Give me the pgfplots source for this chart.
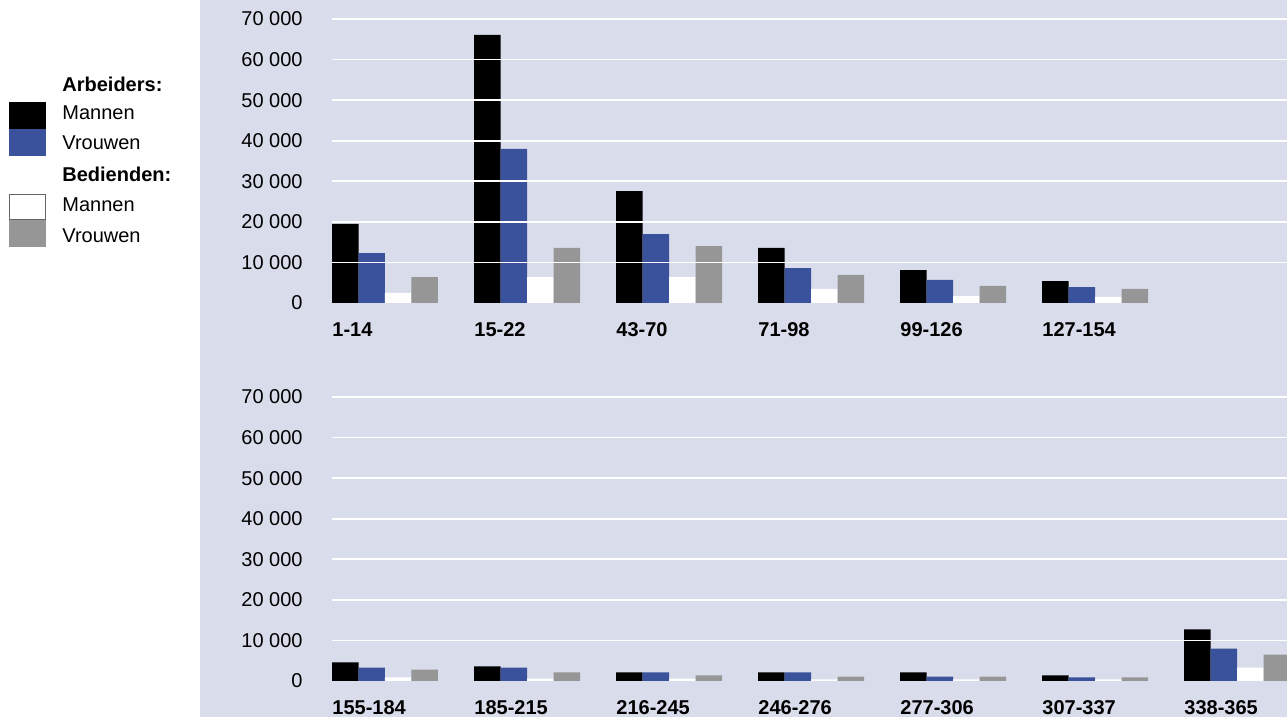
\documentclass[border=0pt]{standalone}
\usepackage{fontspec}
\setmainfont{Liberation Sans}
\usepackage{pgfplots}
\pgfplotsset{compat=1.18}
\definecolor{bg}{RGB}{217,220,235}
\definecolor{vblue}{RGB}{58,82,155}
\definecolor{vgray}{RGB}{150,150,150}
\pgfplotsset{panel/.style={
  scale only axis, width=477.5pt, height=142pt,
  xmin=-0.3732, xmax=6.352, ymin=0, ymax=70000,
  axis on top, axis line style={draw=none}, major tick length=0pt,
  ytick={10000,20000,30000,40000,50000,60000,70000},
  yticklabels={10 000,20 000,30 000,40 000,50 000,60 000,70 000},
  extra y ticks={0}, extra y tick labels={0}, extra y tick style={grid=none},
  ymajorgrids, major grid style={white, line width=0.8pt},
  yticklabel style={font=\fontsize{10}{12}\selectfont, inner sep=0pt, anchor=east, xshift=-14.5pt},
  xticklabel style={font=\fontsize{10}{12}\selectfont\bfseries, inner sep=0pt, anchor=west, yshift=-13.5pt},
  xtick={-0.3732,0.6268,1.6268,2.6268,3.6268,4.6268,5.6268},
  scaled y ticks=false,
  ybar, bar width=0.1866,
}}
\begin{document}
\begin{tikzpicture}
\fill[bg] (100pt,0pt) rectangle (643.5pt,358.5pt);
% legend
\fill[black] (4.5pt,307.5pt) rectangle (23pt,294pt);
\fill[vblue] (4.5pt,294pt) rectangle (23pt,280.5pt);
\filldraw[fill=white, draw=gray!80!black, line width=0.6pt] (4.8pt,261.2pt) rectangle (22.7pt,248.5pt);
\fill[vgray] (4.5pt,248.5pt) rectangle (23pt,235pt);
\begin{scope}[every node/.style={anchor=west, inner sep=0pt, font=\fontsize{10}{12}\selectfont}]
\node at (31pt,316.5pt) {\bfseries Arbeiders:};
\node at (31pt,302pt) {Mannen};
\node at (31pt,287pt) {Vrouwen};
\node at (31pt,271.5pt) {\bfseries Bedienden:};
\node at (31pt,256pt) {Mannen};
\node at (31pt,240.5pt) {Vrouwen};
\end{scope}
% top panel
\begin{axis}[panel, at={(166pt,207pt)}, anchor=south west,
  xticklabels={1-14,15-22,43-70,71-98,99-126,127-154}]
\addplot[fill=black, draw=none, bar shift=-0.2799] coordinates {(0,19500) (1,66100) (2,27600) (3,13600) (4,8100) (5,5400)};
\addplot[fill=vblue, draw=none, bar shift=-0.0933] coordinates {(0,12300) (1,38000) (2,17000) (3,8600) (4,5700) (5,3900)};
\addplot[fill=white, draw=none, bar shift=0.0933] coordinates {(0,2500) (1,6400) (2,6400) (3,3500) (4,1700) (5,1500)};
\addplot[fill=vgray, draw=none, bar shift=0.2799] coordinates {(0,6400) (1,13600) (2,14000) (3,6900) (4,4200) (5,3500)};
\end{axis}
% bottom panel
\begin{axis}[panel, at={(166pt,18pt)}, anchor=south west,
  xticklabels={155-184,185-215,216-245,246-276,277-306,307-337,338-365}]
\addplot[fill=black, draw=none, bar shift=-0.2799] coordinates {(0,4600) (1,3600) (2,2100) (3,2100) (4,2100) (5,1400) (6,12700)};
\addplot[fill=vblue, draw=none, bar shift=-0.0933] coordinates {(0,3300) (1,3300) (2,2100) (3,2100) (4,1100) (5,900) (6,8000)};
\addplot[fill=white, draw=none, bar shift=0.0933] coordinates {(0,900) (1,600) (2,600) (3,400) (4,400) (5,400) (6,3300)};
\addplot[fill=vgray, draw=none, bar shift=0.2799] coordinates {(0,2800) (1,2100) (2,1400) (3,1100) (4,1100) (5,900) (6,6500)};
\end{axis}
\pgfresetboundingbox
\path[use as bounding box] (0pt,0pt) rectangle (643.5pt,358.5pt);
\end{tikzpicture}
\end{document}
